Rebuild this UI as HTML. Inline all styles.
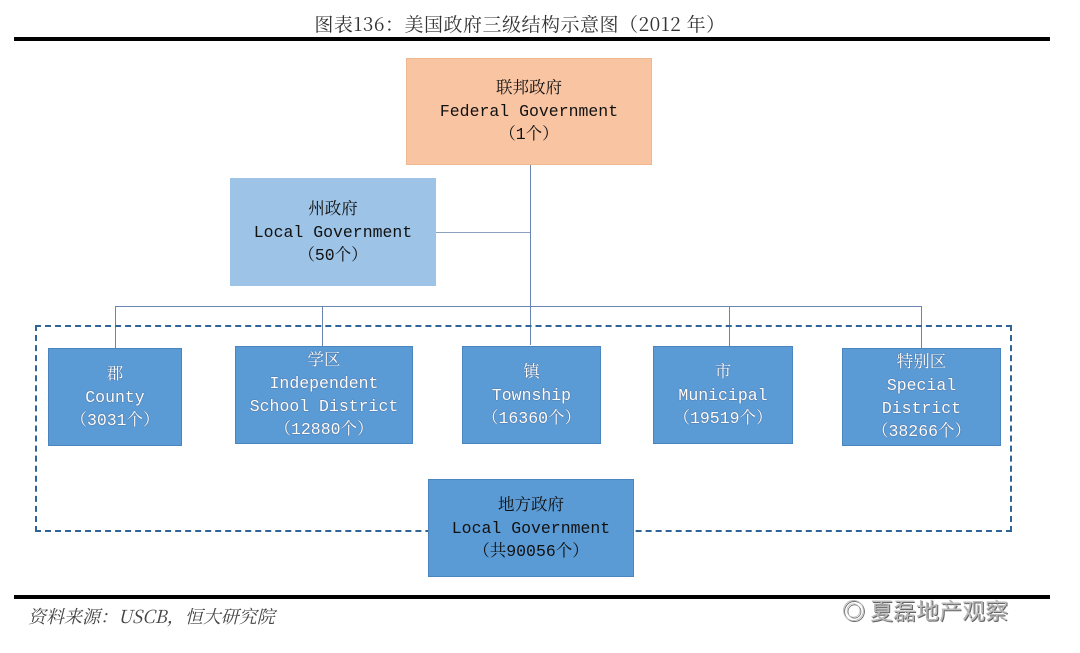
<!DOCTYPE html>
<html><head><meta charset="utf-8"><style>
body{margin:0;width:1080px;height:653px;background:#fff;position:relative;overflow:hidden;font-family:"Liberation Mono","Noto Serif CJK SC",monospace;color:#111}
.a{position:absolute}
.box{position:absolute;display:flex;flex-direction:column;justify-content:center;align-items:center;text-align:center;font-size:16.5px;line-height:23px;box-sizing:border-box}
.b{background:#5b9bd5;border:1px solid #4a86bd;color:#fff;text-shadow:0 0 1px #335}
</style></head><body>
<div class="a" style="left:0;width:1040px;top:10px;text-align:center;font-family:'Noto Serif CJK SC',serif;font-size:19px;color:#333;letter-spacing:0.5px">图表136：美国政府三级结构示意图（2012 年）</div>
<div class="a" style="left:14px;top:37px;width:1036px;height:4px;background:#000"></div>

<div class="box" style="left:406px;top:58px;width:246px;height:107px;background:#f8c4a2;border:1px solid #f0b890">联邦政府<br>Federal Government<br>（1个）</div>
<div class="box" style="left:230px;top:178px;width:206px;height:108px;background:#9dc3e6">州政府<br>Local Government<br>（50个）</div>

<div class="a" style="left:530px;top:165px;width:1px;height:180px;background:#6a85b0"></div>
<div class="a" style="left:436px;top:232px;width:94px;height:1px;background:#8aa0c0"></div>
<div class="a" style="left:115px;top:306px;width:807px;height:1px;background:#6a85b0"></div>
<div class="a" style="left:115px;top:306px;width:1px;height:42px;background:#6a85b0"></div>
<div class="a" style="left:322px;top:306px;width:1px;height:40px;background:#6a85b0"></div>
<div class="a" style="left:729px;top:306px;width:1px;height:40px;background:#6a85b0"></div>
<div class="a" style="left:921px;top:306px;width:1px;height:42px;background:#6a85b0"></div>

<div class="a" style="left:35px;top:325px;width:977px;height:207px;border:2px dashed #2f6596;box-sizing:border-box"></div>

<div class="box b" style="left:48px;top:348px;width:134px;height:98px">郡<br>County<br>（3031个）</div>
<div class="box b" style="left:235px;top:346px;width:178px;height:98px">学区<br>Independent<br>School District<br>（12880个）</div>
<div class="box b" style="left:462px;top:346px;width:139px;height:98px">镇<br>Township<br>（16360个）</div>
<div class="box b" style="left:653px;top:346px;width:140px;height:98px">市<br>Municipal<br>（19519个）</div>
<div class="box b" style="left:842px;top:348px;width:159px;height:98px">特别区<br>Special<br>District<br>（38266个）</div>

<div class="box b" style="left:428px;top:479px;width:206px;height:98px;color:#111;text-shadow:none">地方政府<br>Local Government<br>（共90056个）</div>

<div class="a" style="left:14px;top:595px;width:1036px;height:4px;background:#000"></div>
<div class="a" style="left:28px;top:603px;font-family:'Noto Serif CJK SC',serif;font-style:italic;font-size:18px;color:#444">资料来源：USCB，恒大研究院</div>
<div class="a" style="left:842px;top:592px;font-family:'Noto Sans CJK SC',sans-serif;font-size:23px;color:#bbb;text-shadow:1px 1px 0 #666">◎ 夏磊地产观察</div>
</body></html>
